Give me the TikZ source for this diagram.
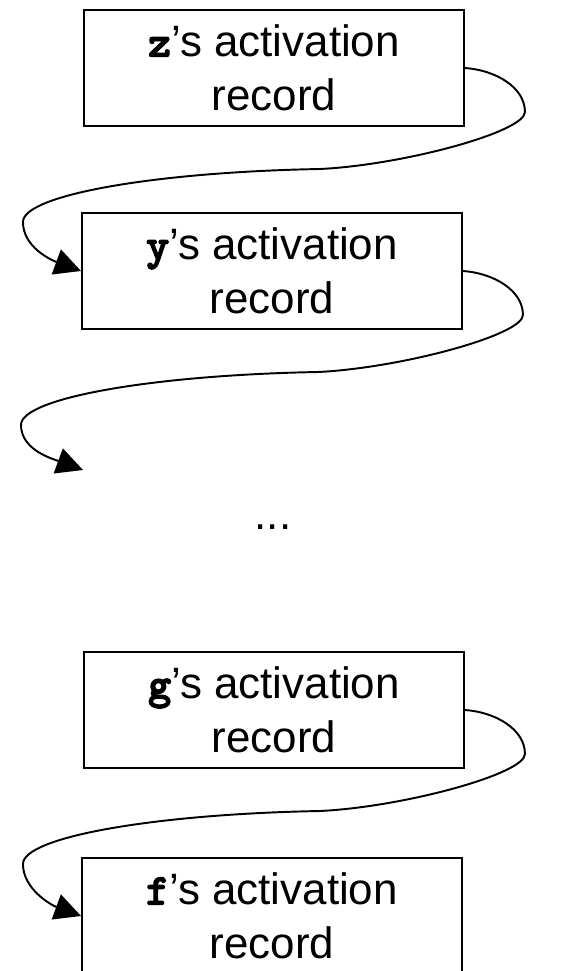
\documentclass[tikz,border=0pt]{standalone}
\usepackage{fontspec}
\setmainfont{Liberation Sans}
\newfontfamily\codefont[FakeBold=3]{lmmonolt10-bold.otf}
\usetikzlibrary{arrows.meta}
\tikzset{
	record/.style={draw,line width=1.1pt,minimum width=7.6cm,minimum height=2.32cm,
		align=center,inner sep=0pt,font=\fontsize{25}{31}\selectfont},
	link/.style={line width=1.1pt,-{Triangle[length=15pt,width=15pt]}}
}
\newcommand{\fname}[1]{{\codefont #1}}
\begin{document}
\begin{tikzpicture}
\useasboundingbox (0,0) rectangle (11.42,-19.42);
\node[record] (zrec) at (5.48,-1.36) {\fname{z}'s activation\\record};
\node[record] (yrec) at (5.44,-5.42) {\fname{y}'s activation\\record};
\node[font=\fontsize{25}{31}\selectfont,anchor=base] (dots) at (5.46,-10.58) {...};
\node[record] (grec) at (5.48,-14.2) {\fname{g}'s activation\\record};
\node[record] (frec) at (5.44,-18.32) {\fname{f}'s activation\\record};
\coordinate (gap) at (1.66,-9.4);
\draw[link] (zrec.east) .. controls +(0.6,-0.04) and +(0,0.5) .. ++(1.2,-0.88)
	.. controls +(0,-0.4) and +(1.66,0.08) .. ++(-4.1,-1.14)
	.. controls +(-3.3,-0.06) and +(0,0.54) .. ++(-5.94,-1.06)
	.. controls +(0,-0.5) and +(-0.6,0.22) .. (yrec.west);
\draw[link] (yrec.east) .. controls +(0.6,-0.04) and +(0,0.5) .. ++(1.2,-0.88)
	.. controls +(0,-0.4) and +(1.66,0.08) .. ++(-4.1,-1.14)
	.. controls +(-3.3,-0.06) and +(0,0.54) .. ++(-5.94,-1.06)
	.. controls +(0,-0.5) and +(-0.6,0.22) .. (gap);
\draw[link] (grec.east) .. controls +(0.6,-0.04) and +(0,0.5) .. ++(1.2,-0.88)
	.. controls +(0,-0.4) and +(1.66,0.08) .. ++(-4.1,-1.14)
	.. controls +(-3.3,-0.06) and +(0,0.54) .. ++(-5.94,-1.06)
	.. controls +(0,-0.5) and +(-0.6,0.22) .. (frec.west);
\end{tikzpicture}
\end{document}
